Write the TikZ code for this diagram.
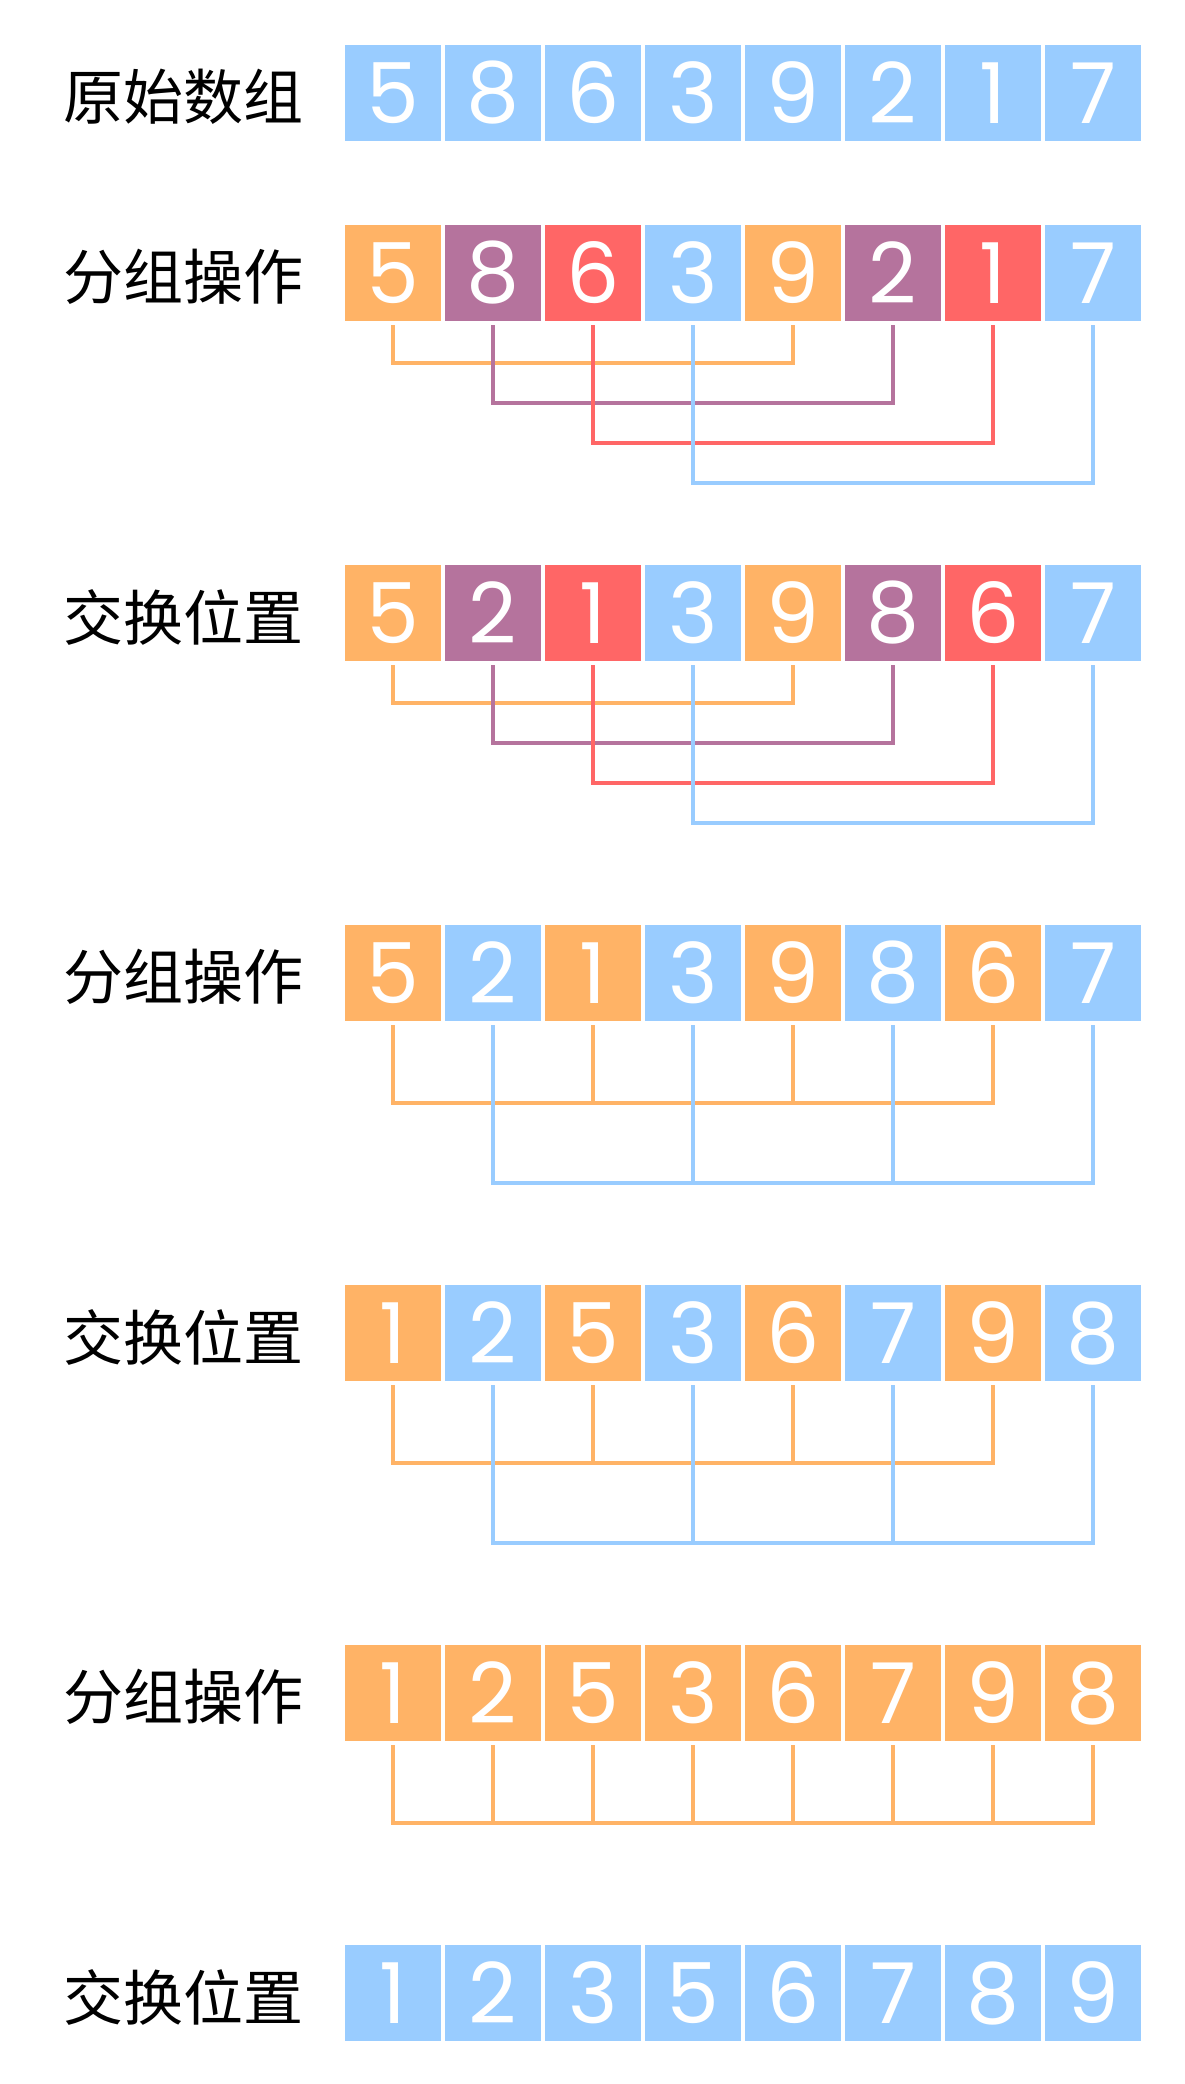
\documentclass[tikz,border=0pt]{standalone}
\usepackage{fontspec}
\usepackage{tikz}
\usetikzlibrary{positioning}
\usetikzlibrary{calc}
\newfontfamily\cjkfont{Noto Sans CJK SC}
\newfontfamily\digitfont{Poppins}
\definecolor{cellblue}{HTML}{99CCFF}
\definecolor{cellorange}{HTML}{FFB366}
\definecolor{cellpurple}{HTML}{B5739D}
\definecolor{cellred}{HTML}{FF6666}

\begin{document}
\begin{tikzpicture}[x=1pt, y=1pt,
                cell/.style={rectangle, minimum width=96pt, minimum height=96pt, inner sep=0pt, text=white, font=\digitfont\fontsize{84}{84}\selectfont},
                bluecell/.style={cell, fill=cellblue},
                orangecell/.style={cell, fill=cellorange},
                purplecell/.style={cell, fill=cellpurple},
                redcell/.style={cell, fill=cellred},
                steplabel/.style={font=\cjkfont\fontsize{60}{60}\selectfont},
                groupline/.style={line width=4pt},
                ]
                \fill[white] (0,0) rectangle (1184,-2084);
                \useasboundingbox (0,0) rectangle (1184,-2084);

                % labels
                \node[steplabel] (label1) at (183,-97) {原始数组};
                \node[steplabel] (label2) at (183,-277) {分组操作};
                \node[steplabel] (label3) at (183,-617) {交换位置};
                \node[steplabel] (label4) at (183,-977) {分组操作};
                \node[steplabel] (label5) at (183,-1337) {交换位置};
                \node[steplabel] (label6) at (183,-1697) {分组操作};
                \node[steplabel] (label7) at (183,-1997) {交换位置};

                % cells
                \foreach \c/\d [count=\i] in {blue/5, blue/8, blue/6, blue/3, blue/9, blue/2, blue/1, blue/7}
                    \node[\c cell] (r1-\i) at (293+100*\i,-93) {\d};
                \foreach \c/\d [count=\i] in {orange/5, purple/8, red/6, blue/3, orange/9, purple/2, red/1, blue/7}
                    \node[\c cell] (r2-\i) at (293+100*\i,-273) {\d};
                \foreach \c/\d [count=\i] in {orange/5, purple/2, red/1, blue/3, orange/9, purple/8, red/6, blue/7}
                    \node[\c cell] (r3-\i) at (293+100*\i,-613) {\d};
                \foreach \c/\d [count=\i] in {orange/5, blue/2, orange/1, blue/3, orange/9, blue/8, orange/6, blue/7}
                    \node[\c cell] (r4-\i) at (293+100*\i,-973) {\d};
                \foreach \c/\d [count=\i] in {orange/1, blue/2, orange/5, blue/3, orange/6, blue/7, orange/9, blue/8}
                    \node[\c cell] (r5-\i) at (293+100*\i,-1333) {\d};
                \foreach \c/\d [count=\i] in {orange/1, orange/2, orange/5, orange/3, orange/6, orange/7, orange/9, orange/8}
                    \node[\c cell] (r6-\i) at (293+100*\i,-1693) {\d};
                \foreach \c/\d [count=\i] in {blue/1, blue/2, blue/3, blue/5, blue/6, blue/7, blue/8, blue/9}
                    \node[\c cell] (r7-\i) at (293+100*\i,-1993) {\d};

                % gap 4
                \foreach \r in {r2,r3}
                    \foreach \a/\b/\c/\l in {1/5/orange/38, 2/6/purple/78, 3/7/red/118, 4/8/blue/158}
                        \draw[groupline, draw=cell\c] ([yshift=-4pt]\r-\a.south) -- ++(0,-\l) -| ([yshift=-4pt]\r-\b.south);

                % gap 2
                \foreach \r in {r4,r5} {
                    \draw[groupline, draw=cellorange] ([yshift=-4pt]\r-1.south) -- ++(0,-78) -| ([yshift=-4pt]\r-7.south);
                    \foreach \i in {3,5}
                        \draw[groupline, draw=cellorange] ([yshift=-4pt]\r-\i.south) -- ++(0,-78);
                    \draw[groupline, draw=cellblue] ([yshift=-4pt]\r-2.south) -- ++(0,-158) -| ([yshift=-4pt]\r-8.south);
                    \foreach \i in {4,6}
                        \draw[groupline, draw=cellblue] ([yshift=-4pt]\r-\i.south) -- ++(0,-158);
                }

                % gap 1
                \draw[groupline, draw=cellorange] ([yshift=-4pt]r6-1.south) -- ++(0,-78) -| ([yshift=-4pt]r6-8.south);
                \foreach \i in {2,...,7}
                    \draw[groupline, draw=cellorange] ([yshift=-4pt]r6-\i.south) -- ++(0,-78);
            \end{tikzpicture}
\end{document}
